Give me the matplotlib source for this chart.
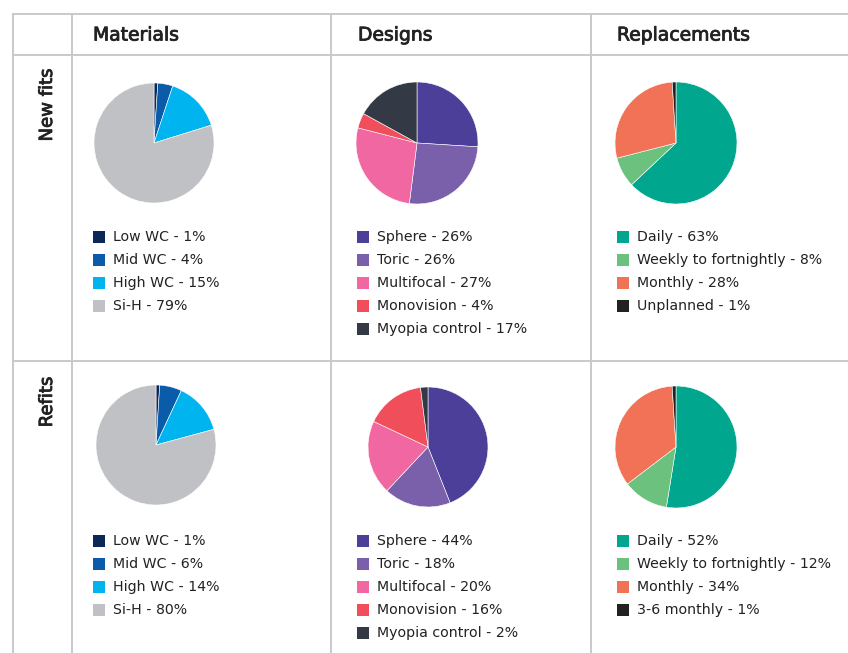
import matplotlib.pyplot as plt
import matplotlib.patheffects as pe
from matplotlib.patches import Rectangle

W, H = 848, 653

columns = ["Materials", "Designs", "Replacements"]
rows = ["New fits", "Refits"]

materials_labels = ["Low WC", "Mid WC", "High WC", "Si-H"]
materials_new = [1, 4, 15, 79]
materials_refit = [1, 6, 14, 80]
materials_colors = ["#0b2858", "#0a5cab", "#00b5ef", "#bfc1c4"]

designs_labels = ["Sphere", "Toric", "Multifocal", "Monovision", "Myopia control"]
designs_new = [26, 26, 27, 4, 17]
designs_refit = [44, 18, 20, 16, 2]
designs_colors = ["#4b3f99", "#7a5fab", "#f067a1", "#f04e5b", "#333a45"]

repl_labels_new = ["Daily", "Weekly to fortnightly", "Monthly", "Unplanned"]
repl_labels_refit = ["Daily", "Weekly to fortnightly", "Monthly", "3-6 monthly"]
repl_new = [63, 8, 28, 1]
repl_refit = [52, 12, 34, 1]
repl_colors = ["#00a78e", "#6cc17f", "#f17256", "#222222"]

plt.rcParams['font.family'] = ['DejaVu Sans']

fig = plt.figure(figsize=(W / 100, H / 100), dpi=100)
ax = fig.add_axes([0, 0, 1, 1])


def Y(y):
    # pixel row (from top) to data y
    return H - y


grid = "#c9c9cd"
for x in [13, 72, 331, 591]:
    ax.plot([x, x], [Y(14), Y(H)], color=grid, lw=1.4, zorder=0)
for y in [14, 55, 361]:
    ax.plot([13, W], [Y(y), Y(y)], color=grid, lw=1.4, zorder=0)

# slightly heavier heading text
heavy = [pe.withStroke(linewidth=0.6, foreground="#222222")]

# column headers
for name, x in zip(columns, [93, 358, 617]):
    ax.text(x, Y(35), name, fontsize=13.5, color="#222222",
            ha='left', va='center', path_effects=heavy)

# row headers
for name, y in zip(rows, [105, 402]):
    ax.text(47, Y(y), name, fontsize=13, color="#222222",
            rotation=90, ha='center', va='center', path_effects=heavy)


def draw_cell(values, labels, colors, cx, cy, r, lx, ly):
    ax.pie(values, colors=colors, center=(cx, Y(cy)), radius=r, startangle=90,
           counterclock=False, wedgeprops=dict(linewidth=0.4, edgecolor='white'),
           frame=True)
    for i, (lab, v, c) in enumerate(zip(labels, values, colors)):
        yy = ly + i * 23
        ax.add_patch(Rectangle((lx, Y(yy) - 6), 12, 12, color=c, lw=0))
        ax.text(lx + 20, Y(yy), f"{lab} - {v}%", fontsize=10.2, color="#222222",
                ha='left', va='center')


draw_cell(materials_new, materials_labels, materials_colors, 154, 143, 60, 93, 237)
draw_cell(designs_new, designs_labels, designs_colors, 417, 143, 61, 357, 237)
draw_cell(repl_new, repl_labels_new, repl_colors, 676, 143, 61, 617, 237)

draw_cell(materials_refit, materials_labels, materials_colors, 156, 445, 60, 93, 541)
draw_cell(designs_refit, designs_labels, designs_colors, 428, 447, 60, 357, 541)
draw_cell(repl_refit, repl_labels_refit, repl_colors, 676, 447, 61, 617, 541)

ax.set_xlim(0, W)
ax.set_ylim(0, H)
ax.set_aspect('equal')
ax.axis('off')

fig.savefig("out.png", dpi=100)
